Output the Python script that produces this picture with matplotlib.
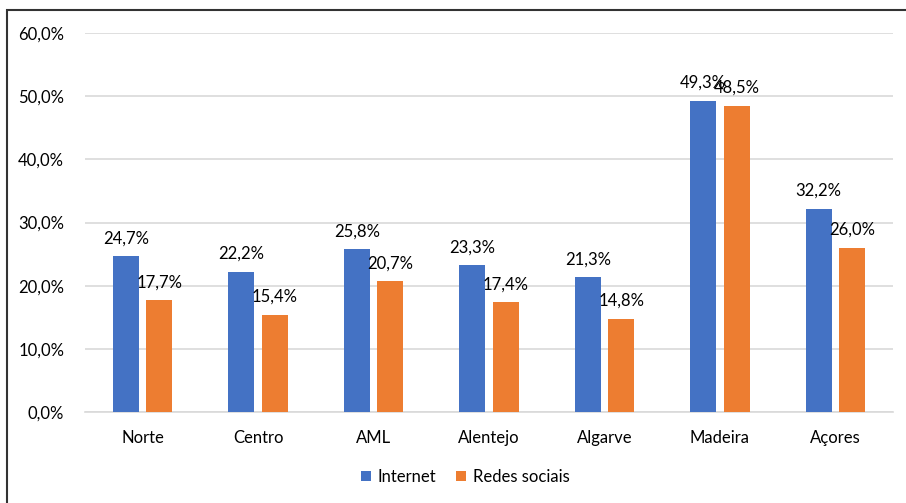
import matplotlib
matplotlib.use("Agg")
import matplotlib.pyplot as plt
import numpy as np
from matplotlib.patches import Rectangle

categories = ["Norte", "Centro", "AML", "Alentejo", "Algarve", "Madeira", "Açores"]
internet = [24.7, 22.2, 25.8, 23.3, 21.3, 49.3, 32.2]
redes = [17.7, 15.4, 20.7, 17.4, 14.8, 48.5, 26.0]
yticks = [0, 10, 20, 30, 40, 50, 60]

plt.rcParams['font.family'] = ['Lato', 'DejaVu Sans']
FS = 12

fig = plt.figure(figsize=(9.06, 5.03), dpi=100)
ax = fig.add_axes([0.0938, 0.181, 0.892, 0.753])

x = np.arange(len(categories))
w = 0.225
off = 0.29 / 2
b1 = ax.bar(x - off, internet, w, color="#4472C4", label="Internet", zorder=3)
b2 = ax.bar(x + off, redes, w, color="#ED7D31", label="Redes sociais", zorder=3)

for rects, vals in ((b1, internet), (b2, redes)):
    for r, v in zip(rects, vals):
        ax.annotate(f"{v:.1f}%".replace(".", ","), (r.get_x() + r.get_width() / 2, v),
                    xytext=(0, 7), textcoords="offset points", ha="center", va="bottom",
                    fontsize=FS, color="#000000")

ax.set_xlim(-0.5, len(categories) - 0.5)
ax.set_ylim(0, 60)
ax.set_yticks(yticks)
ax.set_yticklabels([f"{t:.1f}%".replace(".", ",") for t in yticks], fontsize=FS)
ax.set_xticks(x)
ax.set_xticklabels(categories, fontsize=FS)
ax.tick_params(length=0)
ax.tick_params(axis="y", pad=15)
ax.tick_params(axis="x", pad=13)
ax.grid(axis="y", color="#D9D9D9", linewidth=1.2, zorder=0)
for s in ("top", "right", "left"):
    ax.spines[s].set_visible(False)
ax.spines["bottom"].set_color("#D9D9D9")
ax.spines["bottom"].set_linewidth(1.2)

fig.legend(handles=[b1, b2], labels=["Internet", "Redes sociais"], loc="center",
           bbox_to_anchor=(465 / 906, 1 - 477 / 503), ncol=2, frameon=False,
           fontsize=FS, handlelength=0.6, handleheight=0.6, handletextpad=0.4,
           columnspacing=1.2)

fig.patches.append(Rectangle((7 / 906, -0.1), 1.2, 1 - 10 / 503 + 0.1,
                             transform=fig.transFigure, fill=False,
                             edgecolor="#333333", linewidth=1.5))

fig.savefig("out.png", dpi=100)
